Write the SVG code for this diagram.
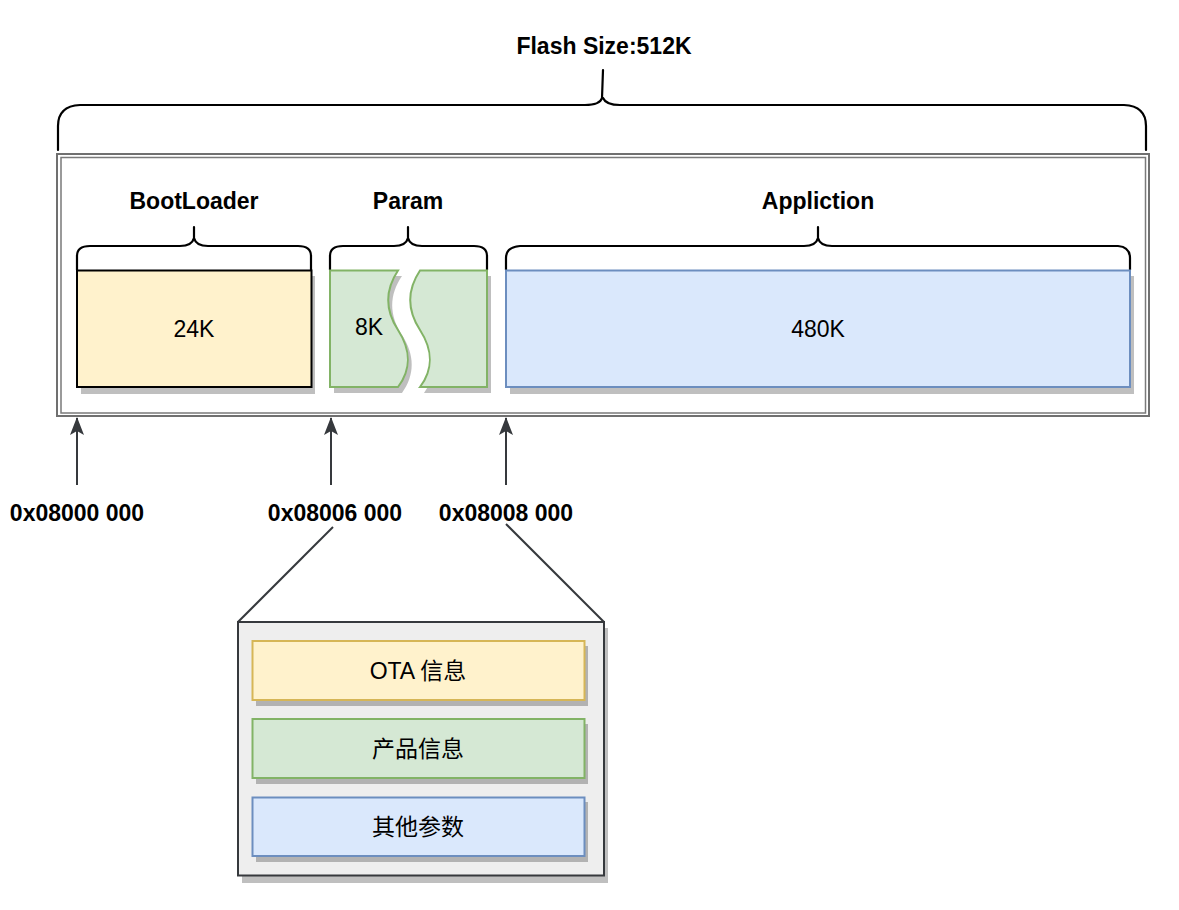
<svg xmlns="http://www.w3.org/2000/svg" width="1179" height="910" viewBox="0 0 1179 910">
  <defs>
    <style>
      .lbl { font-family: "Liberation Sans", Arial, sans-serif; font-size: 23px; font-weight: bold; fill: #000; text-anchor: middle; }
      .txt { font-family: "Liberation Sans", Arial, sans-serif; font-size: 23px; fill: #000; text-anchor: middle; }
      .cjk { font-family: "Liberation Sans", "Noto Sans CJK SC", sans-serif; font-size: 23px; fill: #000; text-anchor: middle; }
      .brace { fill: none; stroke: #000; stroke-width: 2.2; stroke-linecap: round; stroke-linejoin: round; }
      .shadow { fill: #000; fill-opacity: 0.25; }
      .conn { stroke: #36393d; stroke-width: 2; fill: none; }
    </style>
    <marker id="arrow" viewBox="0 0 18 14" refX="17" refY="7" markerWidth="18" markerHeight="14" markerUnits="userSpaceOnUse" orient="auto">
      <path d="M0,0 L18,7 L0,14 L4,7 Z" fill="#36393d"/>
    </marker>
  </defs>
  <rect width="1179" height="910" fill="#ffffff"/>

  <!-- Flash frame -->
  <g id="flash-frame">
    <rect x="57" y="154" width="1092" height="262" fill="#ffffff" stroke="#707070" stroke-width="2"/>
    <rect x="61" y="157.5" width="1084.5" height="255.5" fill="none" stroke="#7a7a7a" stroke-width="1.5"/>
  </g>

  <!-- Flash brace -->
  <g id="flash-brace">
    <path class="brace" d="M58,150 L58,126 Q58,106 80,105 L585,105 Q600,105 602,98 L603,70 M603,98 Q606,105 620,105 L1124,105 Q1146,106 1146,126 L1146,150"/>
    <text class="lbl" x="604" y="54">Flash Size:512K</text>
  </g>

  <!-- BootLoader -->
  <g id="bootloader">
    <path class="brace" d="M77,270 L77,256 Q77,246 90,246 L180,246 Q192,246 194,238 L194,227 M194,238 Q196,246 208,246 L298,246 Q311,246 311,256 L311,270"/>
    <text class="lbl" x="194" y="209">BootLoader</text>
    <rect class="shadow" x="81" y="276" width="234" height="118"/>
    <rect x="77" y="270.5" width="234.5" height="116.5" fill="#fff2cc" stroke="#000" stroke-width="2"/>
    <text class="txt" x="194" y="337">24K</text>
  </g>

  <!-- Param -->
  <g id="param">
    <path class="brace" d="M330,270 L330,256 Q330,246 343,246 L394,246 Q406,246 408,238 L408,227 M408,238 Q410,246 422,246 L474,246 Q487,246 487,256 L487,270"/>
    <text class="lbl" x="408" y="209">Param</text>
    <path class="shadow" d="M334,276 H402 C389,295 389,315 402,335 C415,355 415,375 402,393 H334 Z"/>
    <path class="shadow" d="M424,276 H491 V393 H424 C437,375 437,355 424,335 C411,315 411,295 424,276 Z"/>
    <path d="M330,270.5 H398 C385,290 385,310 398,330 C411,350 411,370 398,387 H330 Z" fill="#d5e8d4" stroke="#82b366" stroke-width="2"/>
    <path d="M420,270.5 H487 V387 H420 C433,370 433,350 420,330 C407,310 407,290 420,270.5 Z" fill="#d5e8d4" stroke="#82b366" stroke-width="2"/>
    <text class="txt" x="369" y="335">8K</text>
  </g>

  <!-- Application -->
  <g id="application">
    <path class="brace" d="M506,270 L506,258 Q506,247 520,246 L804,246 Q816,246 818,238 L818,227 M818,238 Q820,246 832,246 L1118,246 Q1130,247 1130,258 L1130,270"/>
    <text class="lbl" x="818" y="209">Appliction</text>
    <rect class="shadow" x="510" y="276" width="624" height="118"/>
    <rect x="506" y="270.5" width="624" height="116.5" fill="#dae8fc" stroke="#6c8ebf" stroke-width="2"/>
    <text class="txt" x="818" y="337">480K</text>
  </g>

  <!-- Address labels -->
  <g id="addr-0">
    <text class="lbl" x="77" y="521">0x08000 000</text>
  </g>
  <g id="addr-1">
    <text class="lbl" x="335" y="521">0x08006 000</text>
  </g>
  <g id="addr-2">
    <text class="lbl" x="506" y="521">0x08008 000</text>
  </g>

  <!-- Param detail -->
  <g id="param-detail">
    <rect class="shadow" x="242" y="628" width="366" height="255" fill-opacity="0.18"/>
    <rect x="238" y="622" width="366" height="253.5" fill="#eeeeee" stroke="#36393d" stroke-width="2"/>
    <rect class="shadow" x="256" y="646" width="332" height="60"/>
    <rect x="252.5" y="641" width="332" height="59" fill="#fff2cc" stroke="#d6b656" stroke-width="2"/>
    <text class="cjk" x="418" y="679">OTA 信息</text>
    <rect class="shadow" x="256" y="724" width="332" height="60"/>
    <rect x="252.5" y="719" width="332" height="59" fill="#d5e8d4" stroke="#82b366" stroke-width="2"/>
    <text class="cjk" x="418" y="757">产品信息</text>
    <rect class="shadow" x="256" y="802" width="332" height="60"/>
    <rect x="252.5" y="797.5" width="332" height="58.5" fill="#dae8fc" stroke="#6c8ebf" stroke-width="2"/>
    <text class="cjk" x="418" y="835">其他参数</text>
  </g>

  <!-- Connectors -->
  <g id="connectors">
    <line class="conn" x1="77" y1="485" x2="77" y2="418" marker-end="url(#arrow)"/>
    <line class="conn" x1="331" y1="485" x2="331" y2="418" marker-end="url(#arrow)"/>
    <line class="conn" x1="506" y1="485" x2="506" y2="418" marker-end="url(#arrow)"/>
    <line class="conn" x1="333" y1="527" x2="238" y2="622"/>
    <line class="conn" x1="506" y1="524" x2="604" y2="622"/>
  </g>
</svg>
